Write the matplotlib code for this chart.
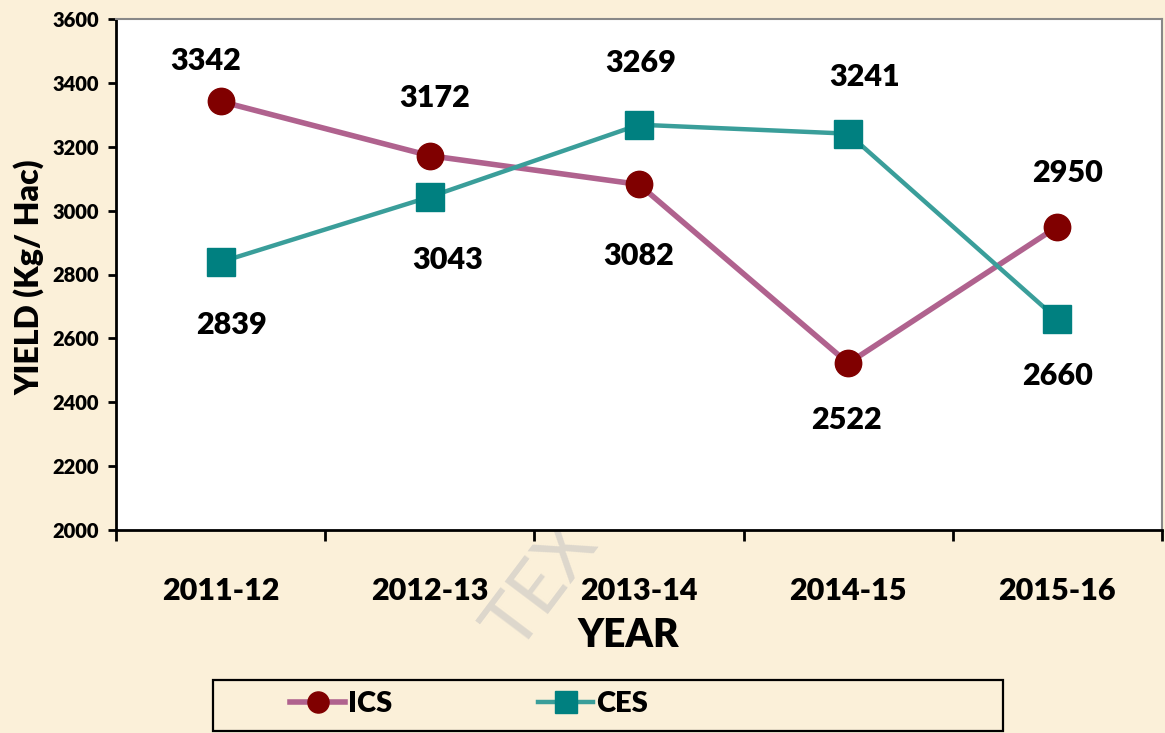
import matplotlib.pyplot as plt
from matplotlib.patches import Rectangle

years = ['2011-12', '2012-13', '2013-14', '2014-15', '2015-16']
ics = [3342, 3172, 3082, 2522, 2950]
ces = [2839, 3043, 3269, 3241, 2660]

# label offsets in pixels (dx, dy), dy positive = up
ics_off = [(-15, 40), (5, 58), (0, -72), (-2, -57), (10, 54)]
ces_off = [(11, -63), (18, -63), (2, 62), (16, 57), (0, -57)]

plt.rcParams['font.family'] = ['Lato', 'DejaVu Sans']
plt.rcParams['font.weight'] = 'heavy'
WT = 'heavy'

W, H = 1165, 733
fig = plt.figure(figsize=(W / 100, H / 100), dpi=100)
fig.patch.set_facecolor('#FBF0D9')

ax = fig.add_axes([116 / W, 1 - 530 / H, (1162 - 116) / W, (530 - 19) / H])
ax.set_facecolor('white')

x = list(range(len(years)))
ax.plot(x, ics, color='#B0628E', lw=4.0, marker='o', ms=19,
        mfc='#800000', mec='#800000', label='ICS', zorder=3)
ax.plot(x, ces, color='#3A9E9A', lw=3.2, marker='s', ms=20,
        mfc='#008080', mec='#008080', label='CES', zorder=3)

for xi, v, (dx, dy) in zip(x, ics, ics_off):
    ax.annotate(str(v), (xi, v), xytext=(dx * 0.72, dy * 0.72),
                textcoords='offset points', ha='center', va='center',
                fontsize=22, fontweight=WT, zorder=4)
for xi, v, (dx, dy) in zip(x, ces, ces_off):
    ax.annotate(str(v), (xi, v), xytext=(dx * 0.72, dy * 0.72),
                textcoords='offset points', ha='center', va='center',
                fontsize=22, fontweight=WT, zorder=4)

ax.set_xlim(-0.5, len(years) - 0.5)
ax.set_ylim(2000, 3600)
ax.set_yticks(range(2000, 3601, 200))
ax.tick_params(axis='y', labelsize=14.5, width=2, length=6, direction='out', pad=6)

# category ticks at the boundaries, labels in the middle
ax.set_xticks([i - 0.5 for i in range(len(years) + 1)])
ax.set_xticklabels([])
ax.tick_params(axis='x', width=2, length=8, direction='out')
ax.set_xticks(x, minor=True)
ax.set_xticklabels(years, minor=True, fontsize=22, fontweight=WT)
ax.tick_params(axis='x', which='minor', length=0, pad=34)

for lab in ax.get_yticklabels():
    lab.set_fontweight(WT)

ax.spines['left'].set_linewidth(2)
ax.spines['bottom'].set_linewidth(2)
ax.spines['top'].set_color('#888888')
ax.spines['right'].set_color('#888888')
ax.spines['top'].set_linewidth(1.5)
ax.spines['right'].set_linewidth(1.5)

ax.set_xlabel('YEAR', fontsize=28, fontweight=WT)
ax.set_ylabel('YIELD (Kg/ Hac)', fontsize=23, fontweight=WT)
ax.xaxis.set_label_coords(0.49, -0.17)
ax.yaxis.set_label_coords(-0.068, 0.495)

# watermark behind the plot area
fig.text(555 / W, 1 - 568 / H, 'TEXT', rotation=53, fontsize=54,
         fontweight='normal', color='#DDD7CC', ha='center', va='center',
         zorder=-1)

# legend frame and entries
fig.patches.append(Rectangle((213 / W, 1 - 731 / H), (1003 - 213) / W, 51 / H,
                             transform=fig.transFigure, fill=False,
                             edgecolor='black', lw=1.6))
h, l = ax.get_legend_handles_labels()
for hi, li, xpos in zip(h, l, [290, 538]):
    fig.legend([hi], [li], loc='center left',
               bbox_to_anchor=(xpos / W, 1 - 704 / H), frameon=False,
               handlelength=1.9, handletextpad=0.1, markerscale=0.8,
               borderpad=0, borderaxespad=0,
               prop={'weight': WT, 'size': 21})

fig.savefig('out.png', dpi=100, facecolor=fig.get_facecolor())
